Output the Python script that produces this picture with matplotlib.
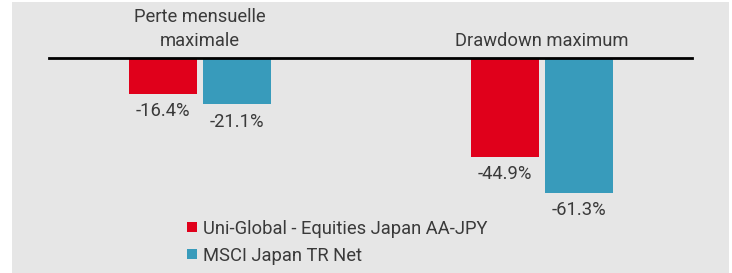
import matplotlib
matplotlib.use("Agg")
import matplotlib.pyplot as plt
from matplotlib.patches import Rectangle
import numpy as np

categories = ["Perte mensuelle\nmaximale", "Drawdown maximum"]
series_names = ["Uni-Global - Equities Japan AA-JPY", "MSCI Japan TR Net"]
fund_values = [-16.4, -44.9]
index_values = [-21.1, -61.3]
colors = ["#e0001b", "#389bbb"]

plt.rcParams['font.family'] = ['Roboto', 'DejaVu Sans']
text_color = "#3a3a3a"

fig = plt.figure(figsize=(7.32, 2.73), dpi=100)
fig.patch.set_facecolor("white")
fig.patches.append(Rectangle((12 / 732, 0), 717 / 732, 271 / 273,
                             transform=fig.transFigure, facecolor="#e6e6e6",
                             edgecolor="none", zorder=-5))

ax = fig.add_axes([0, 0, 1, 1])
ax.patch.set_alpha(0)
ax.set_xlim(-200 / 341.5, 532 / 341.5)
ax.set_ylim(-215 / 2.2, 58 / 2.2)
ax.axis("off")

x = np.arange(len(categories))
w = 68 / 341.5
off = 37 / 341.5

for vals, dx, c in [(fund_values, -off, colors[0]), (index_values, off, colors[1])]:
    bars = ax.bar(x + dx, vals, width=w, color=c, zorder=2)
    for b, v in zip(bars, vals):
        ax.annotate(f"{v:.1f}%", (b.get_x() + b.get_width() / 2, v),
                    xytext=(0, -6), textcoords="offset points",
                    ha="center", va="top", fontsize=13.2, color=text_color)

ax.axhline(0, xmin=49 / 732, xmax=692 / 732, color="black", lw=2, zorder=3)

for xi, cat in zip(x, categories):
    ax.annotate(cat, (xi, 0), xytext=(0, 6), textcoords="offset points",
                ha="center", va="bottom", fontsize=13.2, color=text_color,
                linespacing=1.4)

handles = [Rectangle((0, 0), 1, 1, facecolor=c, edgecolor="none", lw=0) for c in colors]
leg = fig.legend(handles, series_names, loc="lower left",
                 bbox_to_anchor=(180 / 732, 1 / 273), frameon=False,
                 fontsize=13.2, handlelength=0.5, handleheight=0.5,
                 handletextpad=0.35, labelspacing=0.5, borderaxespad=0)
for t in leg.get_texts():
    t.set_color(text_color)

fig.savefig("out.png", dpi=100, facecolor=fig.get_facecolor())
